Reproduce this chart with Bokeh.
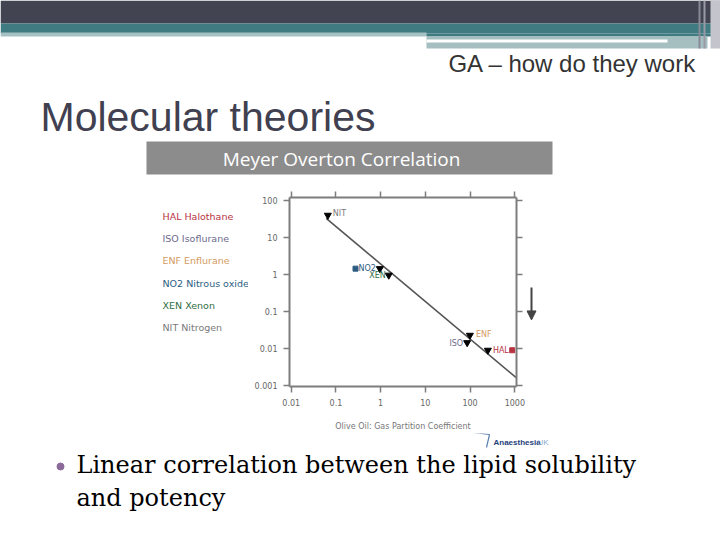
from bokeh.plotting import figure
from bokeh.layouts import column, row
from bokeh.models import (Range1d, LogAxis, FixedTicker, Arrow, NormalHead,
                          CustomJSTickFormatter, ColumnDataSource)
from bokeh.core.properties import value
from bokeh.embed import file_html
from bokeh.resources import INLINE

# ---------------- data ----------------
agent_codes = ["HAL", "ISO", "ENF", "NO2", "XEN", "NIT"]
agent_names = ["Halothane", "Isoflurane", "Enflurane", "Nitrous oxide", "Xenon", "Nitrogen"]
oil_gas_coef = [250, 86, 99, 0.96, 1.52, 0.066]
potency = [0.0088, 0.0141, 0.0223, 1.41, 0.94, 39]
square_codes = ["HAL", "NO2"]
square_x = [875, 0.274]
square_y = [0.0088, 1.41]
fit_x = [0.0607, 1072]
fit_y = [32.2, 0.0016]
x_ticks = [0.01, 0.1, 1, 10, 100, 1000]
x_tick_labels = ["0.01", "0.1", "1", "10", "100", "1000"]
y_ticks = [0.001, 0.01, 0.1, 1, 10, 100]
y_tick_labels = ["0.001", "0.01", "0.1", "1", "10", "100"]
x_axis_title = "Olive Oil: Gas Partition Coefficient"
chart_title = "Meyer Overton Correlation"
slide_header = "GA – how do they work"
slide_title = "Molecular theories"
bullet_lines = ["Linear correlation between the lipid solubility", "and potency"]

# ---------------- styles ----------------
agent_colors = {"HAL": "#b8323f", "ISO": "#6d6a8c", "ENF": "#d49b62",
                "NO2": "#2d5e82", "XEN": "#2f6e45", "NIT": "#7a7a7a"}
label_align = {"HAL": "left", "ISO": "right", "ENF": "left",
               "NO2": "right", "XEN": "right", "NIT": "left"}
label_dx = {"HAL": 5, "ISO": -4, "ENF": 6, "NO2": -4, "XEN": -3, "NIT": 5}
label_dy = {"HAL": 0, "ISO": 1, "ENF": -1, "NO2": 0, "XEN": 0, "NIT": -2}
AX = "#7d7d7d"

# layout geometry (canvas px)
W, H = 720, 540
TOP_H = 176
MID_H = 257
BOT_H = H - TOP_H - MID_H
LEFT_W = 248
CHART_W = 278
RIGHT_W = W - LEFT_W - CHART_W
B_TOP, B_BOT = 21, 43            # chart frame borders (shared by the row)
FR_TOP = TOP_H + B_TOP           # 197
FR_BOT = TOP_H + MID_H - B_BOT   # 390


def blank(w, h, x0, x1, y0, y1, bt=0, bb=0):
    f = figure(width=w, height=h, x_range=Range1d(x0, x1), y_range=Range1d(y1, y0),
               output_backend="svg", toolbar_location=None, tools="",
               x_axis_location=None, y_axis_location=None,
               min_border_left=0, min_border_right=0,
               min_border_top=bt, min_border_bottom=bb,
               outline_line_color=None, background_fill_color="white",
               border_fill_color="white")
    f.grid.visible = False
    return f


def txt(f, x, y, text, size, color, font="DejaVu Sans", align="left", style="normal"):
    f.text([x], [y], text=[text], text_font=value(font),
           text_font_size=value(f"{size}px"), text_color=color, text_align=align,
           text_baseline="middle", text_font_style=style)


def rect(f, l, r, t, b, color):
    f.quad(left=l, right=r, top=t, bottom=b, fill_color=color, line_color=None)


# ---------------- top: slide header + chart title band ----------------
top = blank(W, TOP_H, 0, W, 0, TOP_H)
rect(top, 0, 720, 0, 23, "#424452")
rect(top, 0, 720, 23, 33, "#3f7b81")
rect(top, 0, 426, 32, 36, "#a6c1c3")
rect(top, 426, 720, 33, 36, "#3f7b81")
rect(top, 426, 707, 36, 48, "#a5bfc1")
rect(top, 426, 667, 39, 42, "#ffffff")
rect(top, 698, 700, 0, 48, "#8a8a96")
rect(top, 703, 705, 0, 48, "#9a9aa6")
rect(top, 710, 720, 0, 48, "#c4c4cc")
txt(top, 696, 63, slide_header, 24, "#333333", font="Liberation Sans", align="right")
txt(top, 40, 116, slide_title, 41, "#404050", font="Liberation Sans")
rect(top, 146, 552, 141, 174, "#8c8c8c")
txt(top, 341, 158, chart_title, 19, "#ffffff", font="Open Sans", align="center")

# ---------------- left: agent legend ----------------
left = blank(LEFT_W, MID_H, 0, LEFT_W, FR_TOP, FR_BOT, B_TOP, B_BOT)
leg = ColumnDataSource(dict(
    x=[162] * len(agent_codes),
    y=[216 + i * 22.8 for i in range(len(agent_codes))],
    text=[f"{c} {n}" for c, n in zip(agent_codes, agent_names)],
    color=[agent_colors[c] for c in agent_codes],
))
left.text("x", "y", text="text", source=leg, text_color="color",
          text_font=value("DejaVu Sans"), text_font_size=value("9.5px"),
          text_baseline="middle")

# ---------------- chart ----------------
p = figure(width=CHART_W, height=MID_H, x_axis_type="log", y_axis_type="log",
           x_range=Range1d(0.00916, 1091), y_range=Range1d(0.000924, 117.8),
           output_backend="svg", toolbar_location=None, tools="",
           min_border_left=41, min_border_right=10,
           min_border_top=B_TOP, min_border_bottom=B_BOT,
           background_fill_color="white", border_fill_color="white",
           outline_line_color=None)
p.grid.visible = False


def style_axis(ax, ticks, labels):
    ax.ticker = FixedTicker(ticks=ticks, minor_ticks=[])
    ax.axis_line_color = AX
    ax.axis_line_width = 2
    ax.major_tick_line_color = AX
    ax.major_tick_line_width = 1.5
    ax.major_tick_in = 0
    ax.major_tick_out = 6
    ax.minor_tick_line_color = None
    if labels is None:
        ax.formatter = CustomJSTickFormatter(code="return ''")
        ax.major_label_text_font_size = "0px"
        ax.major_label_standoff = 0
    else:
        ax.major_label_overrides = {t: l for t, l in zip(ticks, labels)}
        ax.major_label_text_font = "DejaVu Sans"
        ax.major_label_text_font_size = "8px"
        ax.major_label_text_color = "#666666"
        ax.major_label_standoff = 6


style_axis(p.xaxis[0], x_ticks, x_tick_labels)
style_axis(p.yaxis[0], y_ticks, y_tick_labels)
p.xaxis[0].axis_label = x_axis_title
p.xaxis[0].axis_label_text_font = "DejaVu Sans"
p.xaxis[0].axis_label_text_font_size = "8px"
p.xaxis[0].axis_label_text_font_style = "normal"
p.xaxis[0].axis_label_text_color = "#777777"
p.xaxis[0].axis_label_standoff = 13
top_ax = LogAxis()
right_ax = LogAxis()
style_axis(top_ax, x_ticks, None)
style_axis(right_ax, y_ticks, None)
p.add_layout(top_ax, "above")
p.add_layout(right_ax, "right")

p.line(fit_x, fit_y, line_color="#555555", line_width=1.6)
src = ColumnDataSource(dict(
    x=oil_gas_coef, y=potency, code=agent_codes,
    color=[agent_colors[c] for c in agent_codes],
    align=[label_align[c] for c in agent_codes],
    dx=[label_dx[c] for c in agent_codes],
    dy=[label_dy[c] for c in agent_codes],
))
p.scatter("x", "y", source=src, marker="inverted_triangle", size=7,
          fill_color="black", line_color="black")
p.text("x", "y", text="code", source=src, x_offset="dx", y_offset="dy",
       text_align="align", text_baseline="middle", text_color="color",
       text_font=value("DejaVu Sans"), text_font_size=value("8px"))
p.scatter(square_x, square_y, marker="square", size=5,
          fill_color=[agent_colors[c] for c in square_codes],
          line_color=[agent_colors[c] for c in square_codes])

# ---------------- right: arrow ----------------
rox = LEFT_W + CHART_W
right = blank(RIGHT_W, MID_H, rox, W, FR_TOP, FR_BOT, B_TOP, B_BOT)
right.add_layout(Arrow(x_start=531, y_start=289, x_end=531, y_end=322,
                       line_color="#444444", line_width=2,
                       end=NormalHead(size=9, fill_color="#444444", line_color="#444444")))

# ---------------- bottom: logo + bullet ----------------
boy = TOP_H + MID_H
bot = blank(W, BOT_H, 0, W, boy, H)
bot.line([473, 489, 486], [432, 434, 447], line_color="#5a7fae", line_width=1.2)
txt(bot, 493, 442, "Anaesthesia", 8, "#1f3f7a", font="Liberation Sans", style="bold")
txt(bot, 537, 442, "UK", 8, "#8aaac8", font="Liberation Sans")
bot.scatter([60], [466], marker="circle", size=7, fill_color="#8b6a9b",
            line_color="#8b6a9b")
txt(bot, 76, 464, bullet_lines[0], 24, "#000000", font="DejaVu Serif")
txt(bot, 76, 497, bullet_lines[1], 24, "#000000", font="DejaVu Serif")

layout = column(top, row(left, p, right, spacing=0), bot, spacing=0)
open("out.html", "w").write(file_html(layout, INLINE))
